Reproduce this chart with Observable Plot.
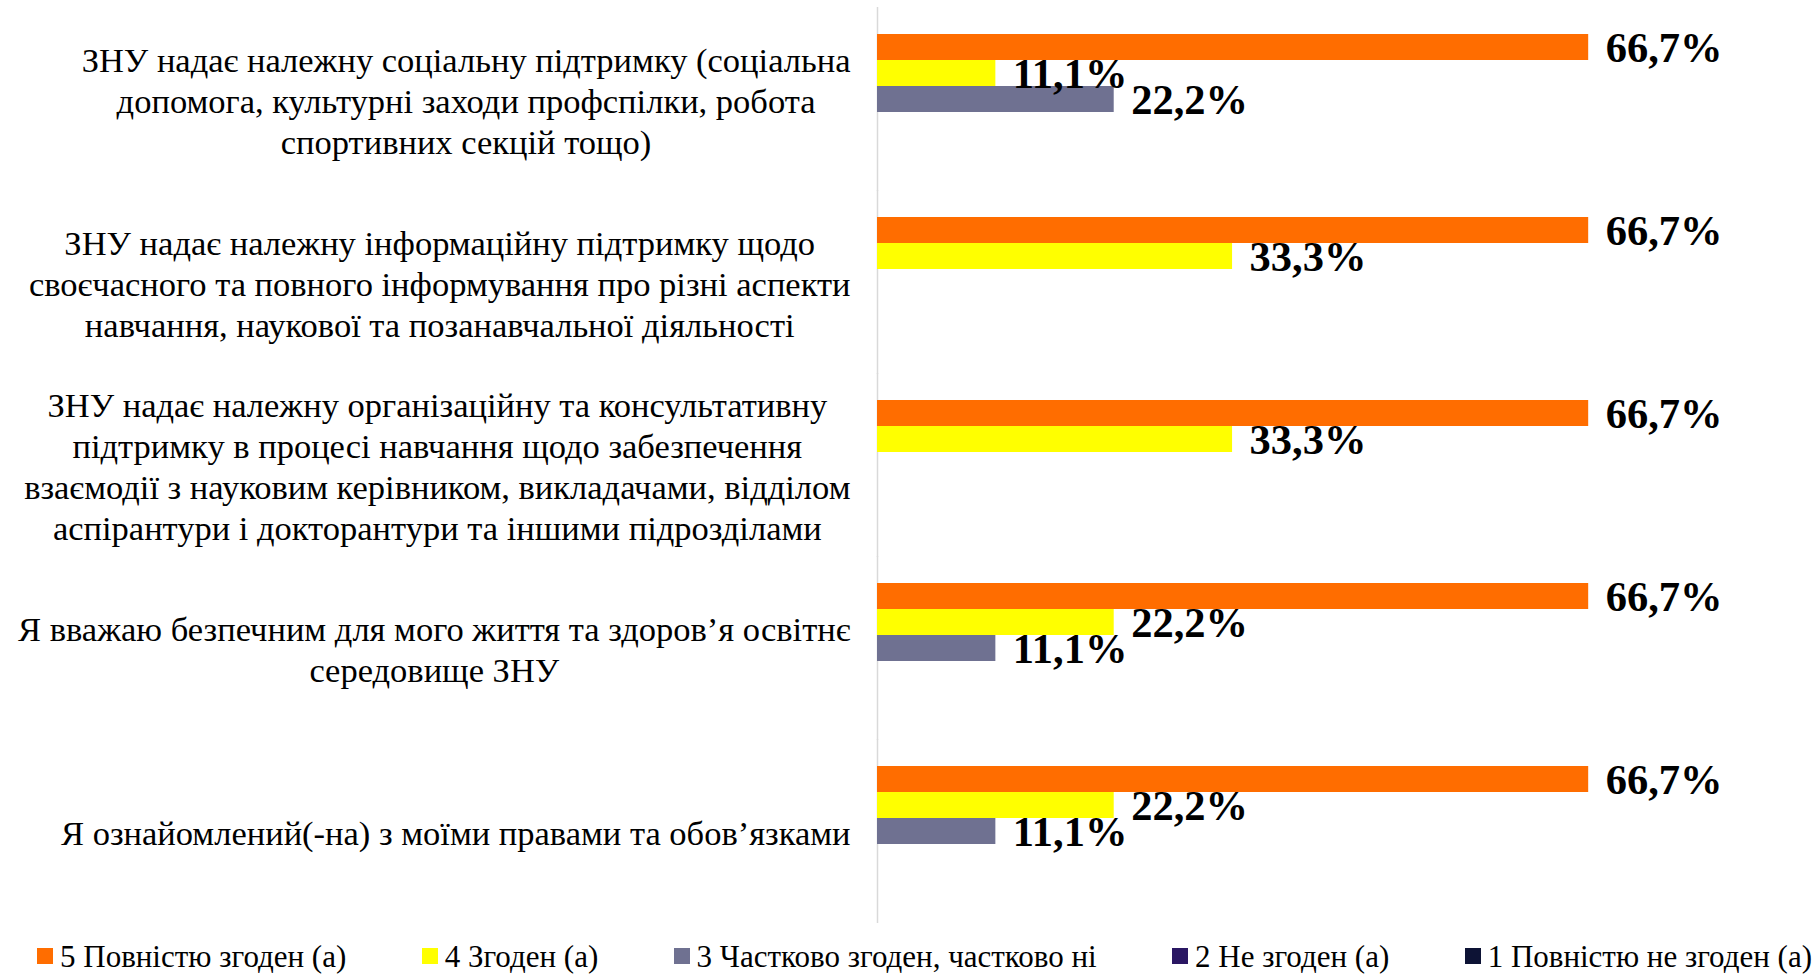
<!DOCTYPE html>
<html>
<head>
<meta charset="utf-8">
<script src="https://cdn.jsdelivr.net/npm/d3@7"></script>
<script src="https://cdn.jsdelivr.net/npm/@observablehq/plot@0.6"></script>
<style>
  html, body { margin: 0; padding: 0; background: #fff; }
  #wrap { width: 1818px; height: 976px; position: relative; overflow: hidden; }
  #legend {
    display: flex; justify-content: space-between; align-items: center;
    box-sizing: border-box; width: 1818px; height: 40px; margin-top: 2px;
    padding: 0 6px 0 37px; line-height: 1;
    font-family: "Liberation Serif", "Times New Roman", serif; font-size: 31px; color: #000;
  }
  .item { display: flex; align-items: center; white-space: nowrap; }
  .sw { width: 16px; height: 16px; margin-right: 7px; display: inline-block; }
</style>
</head>
<body>
<div id="wrap">
  <div id="chart"></div>
  <div id="legend"></div>
</div>
<script>
const categories = [
  "ЗНУ надає належну соціальну підтримку (соціальна\nдопомога, культурні заходи профспілки, робота\nспортивних секцій тощо)",
  "ЗНУ надає належну інформаційну підтримку щодо\nсвоєчасного та повного інформування про різні аспекти\nнавчання, наукової та позанавчальної діяльності",
  "ЗНУ надає належну організаційну та консультативну\nпідтримку в процесі навчання щодо забезпечення\nвзаємодії з науковим керівником, викладачами, відділом\nаспірантури і докторантури та іншими підрозділами",
  "Я вважаю безпечним для мого життя та здоров’я освітнє\nсередовище ЗНУ",
  "Я ознайомлений(-на) з моїми правами та обов’язками"
];
const series = [
  "5 Повністю згоден (а)",
  "4 Згоден (а)",
  "3 Частково згоден, частково ні",
  "2 Не згоден (а)",
  "1 Повністю не згоден (а)"
];
const colors = ["#FF6D00", "#FFFF00", "#6F7191", "#2A1763", "#0D1335"];
const s5 = [66.7, 66.7, 66.7, 66.7, 66.7];
const s4 = [11.1, 33.3, 33.3, 22.2, 22.2];
const s3 = [22.2, 0, 0, 11.1, 11.1];
const s2 = [0, 0, 0, 0, 0];
const s1 = [0, 0, 0, 0, 0];
const seriesValues = [s5, s4, s3, s2, s1];

const rows = [];
categories.forEach((c, i) => {
  series.forEach((s, j) => rows.push({category: c, series: s, value: seriesValues[j][i]}));
});

const FONT = "'Liberation Serif', 'Times New Roman', serif";
const catSize = 34.5;
const ctx = document.createElement("canvas").getContext("2d");
ctx.font = `${catSize}px ${FONT}`;
const blockWidth = c => d3.max(c.split("\n"), l => ctx.measureText(l).width);

const fmt = v => v.toFixed(1).replace(".", ",") + "%";

const labelMarks = categories.map(c => Plot.text([c], {
  fy: d => d,
  frameAnchor: "left",
  text: d => d,
  textAnchor: "middle",
  lineAnchor: "middle",
  lineHeight: 1.19,
  dx: -(27 + blockWidth(c) / 2),
  fontSize: catSize,
  fontFamily: FONT,
  fill: "#000"
}));

const plot = Plot.plot({
  width: 1818,
  height: 934,
  marginLeft: 877,
  marginRight: 88,
  marginTop: 6,
  marginBottom: 10,
  style: {fontFamily: FONT, background: "#fff", overflow: "visible"},
  x: {domain: [0, 80], axis: null},
  y: {domain: series, padding: 0, axis: null},
  fy: {domain: categories, paddingInner: 0.27, paddingOuter: 0.135, axis: null, label: null},
  color: {domain: series, range: colors},
  marks: [
    Plot.ruleX([0], {stroke: "#d9d9d9", strokeWidth: 1.5, insetTop: -25, insetBottom: -25}),
    Plot.barX(rows, {x: "value", y: "series", fy: "category", fill: "series"}),
    Plot.text(rows.filter(d => d.value > 0), {
      x: "value", y: "series", fy: "category",
      text: d => fmt(d.value),
      textAnchor: "start", dx: 17, dy: 1,
      fontSize: 42.5, fontWeight: "bold", fontFamily: FONT, fill: "#000"
    }),
    ...labelMarks
  ]
});
document.getElementById("chart").appendChild(plot);

const legend = d3.select("#legend");
series.forEach((s, j) => {
  const it = legend.append("div").attr("class", "item");
  it.append("span").attr("class", "sw").style("background", colors[j]);
  it.append("span").text(s);
});
</script>
</body>
</html>
